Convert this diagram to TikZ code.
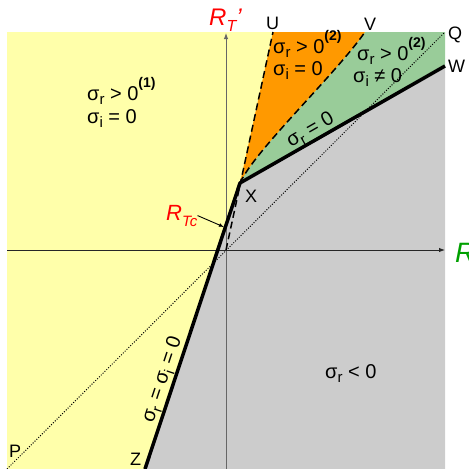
\documentclass[tikz,border=0pt]{standalone}
\usepackage{fontspec}
\setmainfont{Liberation Sans}
\usetikzlibrary{arrows.meta}
\definecolor{cyellow}{RGB}{255,255,170}
\definecolor{cgray}{RGB}{204,204,204}
\definecolor{cgreen}{RGB}{153,204,153}
\definecolor{corange}{RGB}{255,153,0}
\definecolor{cred}{RGB}{255,0,0}
\definecolor{cdgreen}{RGB}{0,160,0}
\newcommand{\mylo}[1]{\raisebox{-0.22em}{\fontsize{15}{15}\selectfont #1}}
\newcommand{\myhi}[1]{\raisebox{0.62em}{\fontsize{14}{14}\selectfont\bfseries #1}}
\tikzset{
  txt/.style={anchor=base west, inner sep=0pt, font=\fontsize{20}{24}\selectfont},
  ptlabel/.style={anchor=base west, inner sep=0pt, font=\fontsize{18}{22}\selectfont},
  thickline/.style={line width=3.5pt, line join=round},
  dashline/.style={line width=1.5pt, dash pattern=on 7pt off 4pt},
  dotline/.style={line width=1pt, dash pattern=on 1pt off 1.6pt},
  axis/.style={line width=1pt, -{Latex[length=6pt,width=4.5pt]}},
  redlab/.style={anchor=base west, inner sep=0pt, text=cred, font=\itshape},
}
\begin{document}
\begin{tikzpicture}[x=1pt,y=-1pt]
\useasboundingbox (0,0) rectangle (469,469);
\coordinate (O) at (226,250);
\coordinate (X) at (240,183);
\coordinate (W) at (445,66);
\coordinate (Z) at (145,469);
\coordinate (U) at (273,32);
\coordinate (V) at (365,32);
\coordinate (Q) at (445,32);
\coordinate (P) at (7,469);
% regions
\fill[cyellow] (7,32) rectangle (445,469);
\fill[cgray] (Z) -- (X) -- (W) -- (445,469) -- cycle;
\fill[cgreen] (X) -- (W) -- (Q) -- (V) .. controls (335,75) and (255,150) .. (X) -- cycle;
\fill[corange] (X) -- (U) -- (V) .. controls (335,75) and (255,150) .. (X) -- cycle;
% dotted diagonal
\draw[dotline] (P) -- (Q);
% axes
\draw[axis, draw=black!60, fill=black!60] (226,469) -- (226,33);
\draw[axis, draw=black!85, fill=black!85] (7,250) -- (445,250);
% dashed boundaries
\draw[dashline] (O) -- (U);
\draw[dashline] (X) .. controls (255,150) and (335,75) .. (V);
% thick boundaries
\draw[thickline] (Z) -- (X) -- (W);
\path (X) -- (W) node[pos=0.37, sloped, above=1pt, inner sep=0pt, font=\fontsize{20}{24}\selectfont] (lab1) {σ\mylo{r} = 0};
\path (Z) -- (X) node[pos=0.3, sloped, above=2pt, inner sep=0pt, font=\fontsize{20}{24}\selectfont] (lab2) {σ\mylo{r} = σ\mylo{i} = 0};
% region texts
\node[txt] (y1) at (87,100) {σ\mylo{r} > 0\myhi{(1)}};
\node[txt] (y2) at (87,123) {σ\mylo{i} = 0};
\node[txt] (o1) at (273,53) {σ\mylo{r} > 0\myhi{(2)}};
\node[txt] (o2) at (273,75) {σ\mylo{i} = 0};
\node[txt] (g1) at (357,60) {σ\mylo{r} > 0\myhi{(2)}};
\node[txt] (g2) at (353,82) {σ\mylo{i} ≠ 0};
\node[txt] (gr) at (325,378) {σ\mylo{r} < 0};
% point labels
\node[ptlabel] (lU) at (266,29) {U};
\node[ptlabel] (lV) at (364,30) {V};
\node[ptlabel] (lQ) at (448,39) {Q};
\node[ptlabel] (lW) at (448,72) {W};
\node[ptlabel] (lX) at (245,202) {X};
\node[ptlabel] (lZ) at (130,465) {Z};
\node[ptlabel] (lP) at (9,457) {P};
% axis labels
\node[redlab, font=\fontsize{24}{28}\selectfont\itshape] (rtp) at (209,25) {R\raisebox{-0.28em}{\fontsize{16}{16}\selectfont T}’};
\node[redlab, text=cdgreen, font=\fontsize{28}{32}\selectfont\itshape] (rt) at (455,262) {R};
\node[redlab, font=\fontsize{22}{26}\selectfont\itshape] (rtc) at (166,220) {R\raisebox{-0.28em}{\fontsize{15}{15}\selectfont Tc}};
\coordinate (rtcpt) at (224,227);
\draw[line width=0.9pt, -{Latex[length=5pt,width=4pt]}] (rtc.east) -- (rtcpt);
\end{tikzpicture}
\end{document}
